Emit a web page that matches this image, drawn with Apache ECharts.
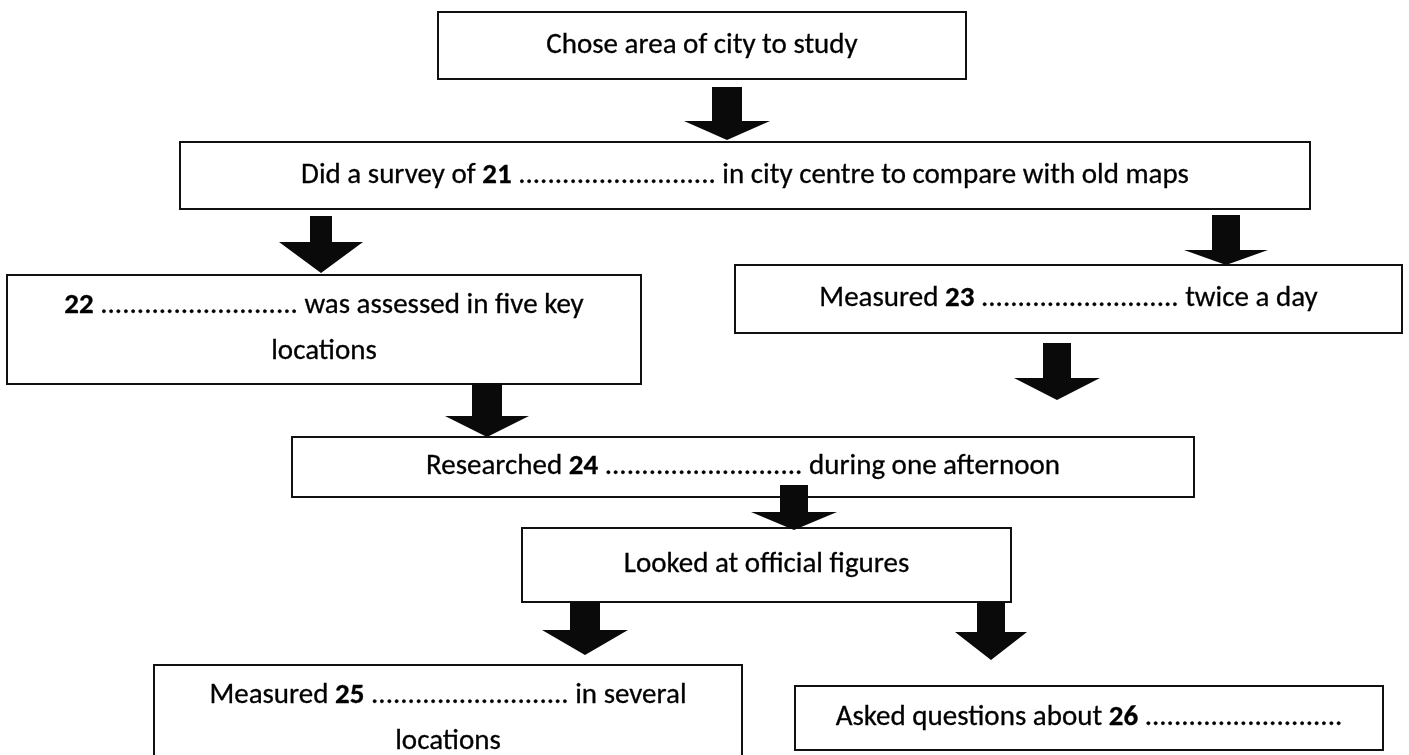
<!DOCTYPE html>
<html>
<head>
<meta charset="utf-8">
<script src="https://cdn.jsdelivr.net/npm/echarts@6/dist/echarts.min.js"></script>
<style>
html,body{margin:0;padding:0;background:#fff;}
#chart{width:1409px;height:755px;}
</style>
</head>
<body>
<div id="chart"></div>
<script>
// Flowchart steps (text; {b|..} marks bold question numbers)
const stepLines = [
  ['Chose area of city to study'],
  ['Did a survey of {b|21} ........................... in city centre to compare with old maps'],
  ['{b|22} ........................... was assessed in five key', 'locations'],
  ['Measured {b|23} ........................... twice a day'],
  ['Researched {b|24} ........................... during one afternoon'],
  ['Looked at official figures'],
  ['Measured {b|25} ........................... in several', 'locations'],
  ['Asked questions about {b|26} ...........................']
];
// Box extents in diagram units
const boxLeft   = [438, 180,   7, 735, 292, 522, 154, 795];
const boxRight  = [966, 1310, 641, 1402, 1194, 1011, 742, 1383];
const boxTop    = [12, 142, 275, 265, 437, 528, 665, 686];
const boxBottom = [79, 209, 384, 333, 497, 602, 780, 750];
// Arrows: centre x, shaft top, head start, tip
const arrowX     = [727, 321, 1226, 1057, 487, 794, 585, 991];
const arrowTop   = [87, 216, 215, 343, 383, 485, 602, 602];
const arrowHead  = [121, 242, 250, 378, 416, 512, 630, 632];
const arrowTip   = [140, 273, 265, 400, 437, 530, 655, 660];
const arrowShaft = [15, 11, 14, 14, 15, 14, 15, 14];
const arrowWing  = [43, 42, 42, 43, 42, 43, 43, 36];

const boxData = stepLines.map((l, i) => [boxLeft[i], boxTop[i], boxRight[i], boxBottom[i], i]);
const arrowData = arrowX.map((x, i) => [x, arrowTop[i], arrowHead[i], arrowTip[i], arrowShaft[i], arrowWing[i]]);

const FONT = 'Carlito, Lato, "Open Sans", sans-serif';
const FS = 29;
const chart = echarts.init(document.getElementById('chart'));
chart.setOption({
  animation: false,
  backgroundColor: '#fff',
  grid: {left: 0, right: 0, top: 0, bottom: 0},
  xAxis: {type: 'value', min: 0, max: 1409, show: false},
  yAxis: {type: 'value', min: 0, max: 755, inverse: true, show: false},
  series: [
    {
      type: 'custom',
      coordinateSystem: 'cartesian2d',
      data: boxData,
      clip: false,
      renderItem: function (params, api) {
        const p0 = api.coord([api.value(0), api.value(1)]);
        const p1 = api.coord([api.value(2), api.value(3)]);
        const idx = api.value(4);
        const lines = stepLines[idx];
        const cx = (p0[0] + p1[0]) / 2;
        const h = p1[1] - p0[1];
        const children = [{
          type: 'rect',
          shape: {x: p0[0], y: p0[1], width: p1[0] - p0[0], height: h},
          style: {fill: '#fff', stroke: '#111', lineWidth: 2}
        }];
        const lh = 46;
        let firstY;
        if (lines.length === 1) firstY = p0[1] + h / 2;
        else firstY = p0[1] + 31;
        lines.forEach((t, k) => {
          children.push({
            type: 'text',
            style: {
              text: t, x: cx, y: firstY + k * lh,
              align: 'center', verticalAlign: 'middle',
              fontFamily: FONT, fontSize: FS, fontWeight: 500, fill: '#000',
              stroke: '#000', lineWidth: 0.3,
              rich: {b: {fontFamily: FONT, fontSize: FS, fontWeight: 'bold', fill: '#000'}}
            }
          });
        });
        return {type: 'group', children: children};
      }
    },
    {
      type: 'custom',
      coordinateSystem: 'cartesian2d',
      data: arrowData,
      clip: false,
      renderItem: function (params, api) {
        const x = api.value(0);
        const s = api.value(4), w = api.value(5);
        const pts = [
          [x - s, api.value(1)], [x + s, api.value(1)], [x + s, api.value(2)],
          [x + w, api.value(2)], [x, api.value(3)], [x - w, api.value(2)],
          [x - s, api.value(2)]
        ].map(p => api.coord(p));
        return {type: 'polygon', shape: {points: pts}, style: {fill: '#0a0a0a'}};
      }
    }
  ]
});
</script>
</body>
</html>
